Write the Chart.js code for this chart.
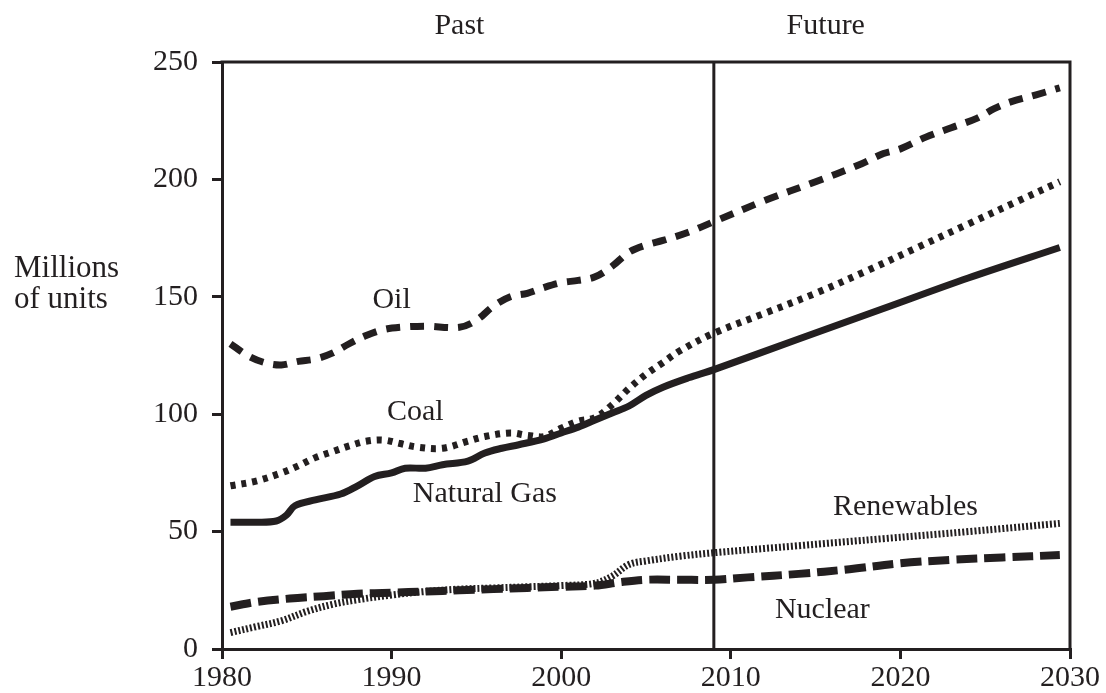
<!DOCTYPE html>
<html>
<head>
<meta charset="utf-8">
<script src="https://cdn.jsdelivr.net/npm/chart.js@4.4.1/dist/chart.umd.min.js"></script>
<style>
  html, body { margin: 0; padding: 0; background: #fff; }
  #wrap { width: 1106px; height: 693px; }
</style>
</head>
<body>
<div id="wrap"><canvas id="energyChart" width="1106" height="693"></canvas></div>
<script>
const ink = '#231f20';
const serif = "'Liberation Serif', 'DejaVu Serif', serif";

// tick labels
const yearTicks = [1980, 1990, 2000, 2010, 2020, 2030];
const unitTicks = [0, 50, 100, 150, 200, 250];
const dividerYear = 2009;

// series (year, millions of units)
const oilYears = [1980.5, 1981.5, 1982.5, 1983.5, 1984.5, 1985.5, 1986.5, 1987.5, 1988.5, 1989.5, 1990.5, 1992, 1994, 1995, 1996, 1997, 1998, 1999, 2000, 2001, 2002, 2003, 2004, 2005, 2006, 2007.5, 2009, 2012, 2015, 2017.5, 2019, 2020, 2021.5, 2023, 2024.5, 2025.5, 2026.5, 2028, 2029.4];
const oilValues = [130, 125, 122, 121, 122.5, 123.5, 126, 130, 133.5, 136, 137, 137.5, 137, 140, 146, 150, 151.5, 154, 156, 157, 158.5, 163, 169, 172, 174, 177.5, 182, 191, 199, 206, 211, 213, 218, 222, 226, 230, 233, 236, 239];

const coalYears = [1980.5, 1982, 1983.5, 1984.5, 1985.5, 1986.5, 1987.5, 1988.5, 1989.5, 1990.5, 1991.5, 1993, 1994.5, 1995.5, 1997, 1998, 1999, 2000, 2001, 2002, 2003, 2004, 2005, 2006, 2007, 2009, 2012, 2015, 2018, 2021, 2024, 2027, 2029.4];
const coalValues = [69.5, 71.5, 75, 78, 81.5, 84, 86.5, 88.5, 89, 87.5, 86, 85.5, 88.5, 90.5, 92, 91, 90.5, 94, 97, 98.5, 104, 111, 117, 122, 127, 134.5, 143, 151.5, 161, 171, 181, 191, 199];

const gasYears = [1980.5, 1982, 1983.2, 1983.8, 1984.3, 1985.5, 1987, 1988, 1989, 1990, 1990.8, 1992, 1993, 1994.5, 1995.5, 1996.5, 1997.5, 1999, 2000, 2001, 2002, 2003, 2004, 2005, 2006, 2007.5, 2009, 2014, 2019, 2024, 2029.4];
const gasValues = [54, 54, 54.5, 57, 61, 63.5, 66, 69.5, 73.5, 75, 77, 77, 78.5, 80, 83.5, 85.5, 87, 89.5, 92, 94.5, 97.5, 100.5, 103.5, 108, 111.5, 115.5, 119, 132, 145, 158, 171];

const renewYears = [1980.5, 1982, 1983.5, 1985, 1986.5, 1988, 1990, 1992, 1994, 1996, 1998, 2000, 2002, 2003, 2004, 2005, 2007, 2009, 2014, 2019, 2024, 2029.4];
const renewValues = [7, 9.5, 12, 16, 19, 21, 23, 24.5, 25.5, 26, 26.5, 27, 28, 31, 36, 37.5, 39.5, 41, 44, 47, 50, 53.5];

const nuclearYears = [1980.5, 1982, 1984, 1986, 1988, 1990, 1992, 1994, 1996, 1998, 2000, 2002, 2003.5, 2005, 2007, 2009, 2011, 2014, 2017, 2020, 2023, 2026, 2029.4];
const nuclearValues = [18, 20, 21.5, 22.5, 23.5, 24, 24.5, 25, 25.5, 26, 26.5, 27, 28.5, 29.5, 29.5, 29.5, 30.5, 32, 34, 36.5, 38, 39, 40];

// in-chart labels, placed in data units
const seriesLabels = [
  { text: 'Oil', year: 1990, value: 148.5 },
  { text: 'Coal', year: 1991.4, value: 101 },
  { text: 'Natural Gas', year: 1995.5, value: 66 },
  { text: 'Renewables', year: 2020.3, value: 60.5 },
  { text: 'Nuclear', year: 2015.4, value: 16.5 }
];
const periodLabels = [
  { text: 'Past', year: 1994 },
  { text: 'Future', year: 2015.6 }
];

const pts = (xs, ys) => xs.map((x, i) => ({ x: x, y: ys[i] }));

const line = (label, xs, ys, width, dash) => ({
  label: label,
  data: pts(xs, ys),
  borderColor: ink,
  borderWidth: width,
  borderDash: dash,
  borderCapStyle: 'butt',
  borderJoinStyle: 'round',
  pointRadius: 0,
  tension: 0.35,
  fill: false
});

const overlay = {
  id: 'overlay',
  beforeDatasetsDraw(chart) {
    const { ctx, chartArea: a, scales: { x } } = chart;
    const dx = x.getPixelForValue(dividerYear);
    ctx.save();
    ctx.strokeStyle = ink;
    ctx.lineWidth = 3;
    ctx.beginPath();
    ctx.moveTo(dx, a.top);
    ctx.lineTo(dx, a.bottom);
    ctx.stroke();
    ctx.restore();
  },
  afterDraw(chart) {
    const { ctx, chartArea: a, scales: { x, y } } = chart;
    ctx.save();
    ctx.strokeStyle = ink;
    ctx.lineWidth = 3;
    ctx.beginPath();
    ctx.moveTo(a.left - 1.5, a.top);
    ctx.lineTo(a.right, a.top);
    ctx.lineTo(a.right, a.bottom);
    ctx.stroke();

    ctx.fillStyle = ink;
    ctx.font = '30px ' + serif;
    ctx.textAlign = 'center';
    ctx.textBaseline = 'middle';
    seriesLabels.forEach(l => {
      ctx.fillText(l.text, x.getPixelForValue(l.year), y.getPixelForValue(l.value));
    });
    periodLabels.forEach(l => {
      ctx.fillText(l.text, x.getPixelForValue(l.year), a.top - 36);
    });

    // axis title
    ctx.font = '31px ' + serif;
    ctx.textAlign = 'left';
    const y150 = y.getPixelForValue(150);
    ctx.fillText('Millions', 14, y150 - 28);
    ctx.fillText('of units', 14, y150 + 3);
    ctx.restore();
  }
};

const tickFont = { family: serif, size: 30 };

new Chart(document.getElementById('energyChart'), {
  type: 'line',
  data: {
    datasets: [
      line('Oil', oilYears, oilValues, 7, [14, 10]),
      line('Coal', coalYears, coalValues, 7, [5, 6]),
      line('Natural Gas', gasYears, gasValues, 7, []),
      line('Renewables', renewYears, renewValues, 7, [2, 2]),
      line('Nuclear', nuclearYears, nuclearValues, 8, [21, 7])
    ]
  },
  options: {
    responsive: false,
    animation: false,
    layout: { padding: { top: 62, right: 36, left: 0, bottom: 0 } },
    plugins: {
      legend: { display: false },
      tooltip: { enabled: false }
    },
    scales: {
      x: {
        type: 'linear',
        min: yearTicks[0],
        max: yearTicks[yearTicks.length - 1],
        afterBuildTicks: s => { s.ticks = yearTicks.map(v => ({ value: v })); },
        afterFit: s => { s.height = 44; },
        grid: { drawOnChartArea: false, drawTicks: true, tickLength: 10, color: ink, lineWidth: 3 },
        border: { display: true, color: ink, width: 3 },
        ticks: { color: ink, font: tickFont, padding: 1, maxRotation: 0, callback: v => String(v) }
      },
      y: {
        min: unitTicks[0],
        max: unitTicks[unitTicks.length - 1],
        afterBuildTicks: s => { s.ticks = unitTicks.map(v => ({ value: v })); },
        afterFit: s => { s.width = 222; },
        grid: { drawOnChartArea: false, drawTicks: true, tickLength: 10, color: ink, lineWidth: 3 },
        border: { display: true, color: ink, width: 3 },
        ticks: { color: ink, font: tickFont, padding: 14, callback: v => String(v) }
      }
    }
  },
  plugins: [overlay]
});
</script>
</body>
</html>
